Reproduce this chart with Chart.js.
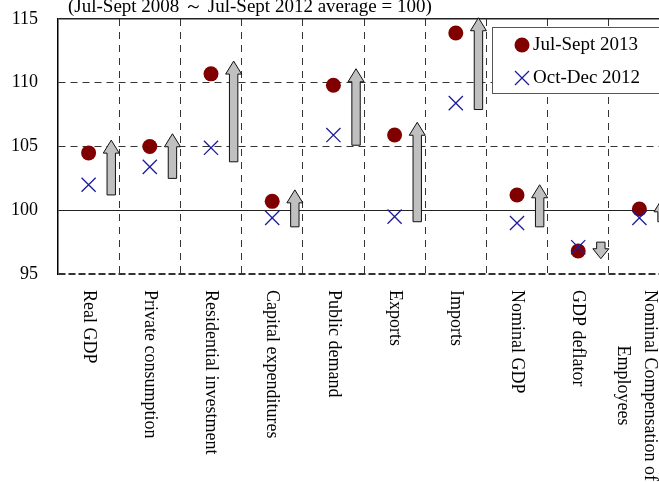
<!DOCTYPE html>
<html>
<head>
<meta charset="utf-8">
<script src="https://cdn.jsdelivr.net/npm/chart.js@4.4.1/dist/chart.umd.min.js"></script>
<style>
  html, body { margin: 0; padding: 0; overflow: hidden; background: #fff; width: 659px; height: 482px; }
  #wrap { width: 700px; height: 482px; }
</style>
</head>
<body>
<div id="wrap"><canvas id="c" width="700" height="482"></canvas></div>
<script>
// ---- data ----
const categories = [
  'Real GDP', 'Private consumption', 'Residential investment', 'Capital expenditures',
  'Public demand', 'Exports', 'Imports', 'Nominal GDP', 'GDP deflator',
  ['Nominal Compensation of', 'Employees']
];
const julSept2013 = [104.5, 105.0, 110.7, 100.7, 109.8, 105.9, 113.9, 101.2, 96.8, 100.1];
const octDec2012  = [102.0, 103.4, 104.9,  99.4, 105.9,  99.5, 108.4,  99.0, 97.1,  99.4];
const arrowFrom   = [101.2, 102.5, 103.8,  98.7, 105.1,  99.1, 107.9,  98.7, 97.5,  99.1];
const arrowTo     = [105.5, 106.0, 111.7, 101.6, 111.1, 106.9, 115.1, 102.0, 96.2, 100.9];
const yTicks = [95, 100, 105, 110, 115];
const titleText = '(Jul-Sept 2008 \uFF5E Jul-Sept 2012 average = 100)';
const seriesNames = ['Jul-Sept 2013', 'Oct-Dec 2012'];

const SERIF = '"Liberation Serif", "Times New Roman", serif';
const RED = '#800000';
const BLUE = '#1c1ca0';

const overlay = {
  id: 'overlay',
  beforeDatasetsDraw(chart) {
    const ctx = chart.ctx, x = chart.scales.x, y = chart.scales.y;
    const area = chart.chartArea;
    ctx.save();
    ctx.beginPath();
    ctx.rect(area.left, area.top - 2, area.right - area.left, area.bottom - area.top + 4);
    ctx.clip();
    for (let i = 0; i < arrowFrom.length; i++) {
      const cx = x.getPixelForValue(i + 0.37);
      const y0 = y.getPixelForValue(arrowFrom[i]);
      const y1 = y.getPixelForValue(arrowTo[i]);
      const dir = y1 < y0 ? -1 : 1;
      const len = Math.abs(y1 - y0);
      const head = Math.min(13, len * 0.6);
      const sw = 4.2, hw = 8;
      const yb = y1 - dir * head;
      ctx.beginPath();
      ctx.moveTo(cx - sw, y0);
      ctx.lineTo(cx - sw, yb);
      ctx.lineTo(cx - hw, yb);
      ctx.lineTo(cx, y1);
      ctx.lineTo(cx + hw, yb);
      ctx.lineTo(cx + sw, yb);
      ctx.lineTo(cx + sw, y0);
      ctx.closePath();
      ctx.fillStyle = '#c0c0c0';
      ctx.fill();
      ctx.lineWidth = 1;
      ctx.strokeStyle = '#111';
      ctx.stroke();
    }
    ctx.restore();
  },
  afterDraw(chart) {
    const ctx = chart.ctx, x = chart.scales.x;
    ctx.save();
    // title
    ctx.font = '19px ' + SERIF;
    ctx.fillStyle = '#000';
    ctx.textAlign = 'left';
    ctx.textBaseline = 'alphabetic';
    ctx.fillText(titleText, 68, 12);

    // rotated category labels (reading top to bottom)
    ctx.font = '18px ' + SERIF;
    ctx.textBaseline = 'middle';
    ctx.textAlign = 'center';
    const startY = 290, lh = 27;
    categories.forEach((lab, i) => {
      const lines = Array.isArray(lab) ? lab : [lab];
      const maxW = Math.max(...lines.map(l => ctx.measureText(l).width));
      const cx = x.getPixelForValue(i) - (lines.length > 1 ? 3 : 0);
      ctx.save();
      ctx.translate(cx, startY + maxW / 2);
      ctx.rotate(Math.PI / 2);
      lines.forEach((l, k) => {
        ctx.fillText(l, 0, (k - (lines.length - 1) / 2) * lh);
      });
      ctx.restore();
    });

    // legend
    ctx.fillStyle = '#fff';
    ctx.fillRect(492, 27, 220, 66);
    ctx.strokeStyle = '#555';
    ctx.lineWidth = 1;
    ctx.strokeRect(492.5, 27.5, 220, 66);
    ctx.beginPath();
    ctx.arc(522, 45, 7.5, 0, Math.PI * 2);
    ctx.fillStyle = RED;
    ctx.fill();
    ctx.beginPath();
    ctx.moveTo(515, 71); ctx.lineTo(529, 85);
    ctx.moveTo(529, 71); ctx.lineTo(515, 85);
    ctx.strokeStyle = BLUE;
    ctx.lineWidth = 1.3;
    ctx.stroke();
    ctx.fillStyle = '#000';
    ctx.font = '19px ' + SERIF;
    ctx.textAlign = 'left';
    ctx.textBaseline = 'middle';
    ctx.fillText(seriesNames[0], 533, 45);
    ctx.fillText(seriesNames[1], 533, 78);
    ctx.restore();
  }
};

new Chart(document.getElementById('c'), {
  type: 'line',
  data: {
    labels: categories,
    datasets: [
      {
        label: seriesNames[0],
        data: julSept2013,
        showLine: false,
        pointStyle: 'circle',
        pointRadius: 7.5,
        pointBackgroundColor: RED,
        pointBorderWidth: 0,
        order: 2
      },
      {
        label: seriesNames[1],
        data: octDec2012,
        showLine: false,
        pointStyle: 'crossRot',
        pointRadius: 10,
        pointBorderColor: BLUE,
        pointBackgroundColor: BLUE,
        pointBorderWidth: 1.3,
        order: 1
      }
    ]
  },
  options: {
    responsive: false,
    animation: false,
    layout: { padding: { left: 0, right: 30, top: 19, bottom: 0 } },
    plugins: { legend: { display: false }, tooltip: { enabled: false }, title: { display: false } },
    scales: {
      x: {
        type: 'category',
        offset: true,
        grid: { offset: true, color: '#333', lineWidth: 1, drawTicks: false },
        border: { display: false, dash: [7, 6] },
        ticks: { display: false },
        afterFit: s => { s.height = 208; s.paddingLeft = 0; s.paddingRight = 0; }
      },
      y: {
        min: 95, max: 115,
        afterBuildTicks: s => { s.ticks = yTicks.map(v => ({ value: v })); },
        grid: {
          drawTicks: false,
          color: c => (c.tick && (c.tick.value === 100 || c.tick.value === 115)) ? '#222' : '#333',
          lineWidth: c => {
            if (!c.tick) return 1;
            if (c.tick.value === 115) return 1.5;
            if (c.tick.value === 95) return 2;
            return 1;
          }
        },
        border: {
          display: true, color: '#000', width: 1.5,
          dash: c => (c.tick && (c.tick.value === 100 || c.tick.value === 115)) ? [] : (c.tick && c.tick.value === 95 ? [7, 3] : [7, 5])
        },
        ticks: {
          padding: 20,
          color: '#000',
          font: { family: SERIF, size: 18 },
          callback: v => String(v)
        },
        afterFit: s => { s.width = 58; s.paddingTop = 0; s.paddingBottom = 0; }
      }
    }
  },
  plugins: [overlay]
});
</script>
</body>
</html>
